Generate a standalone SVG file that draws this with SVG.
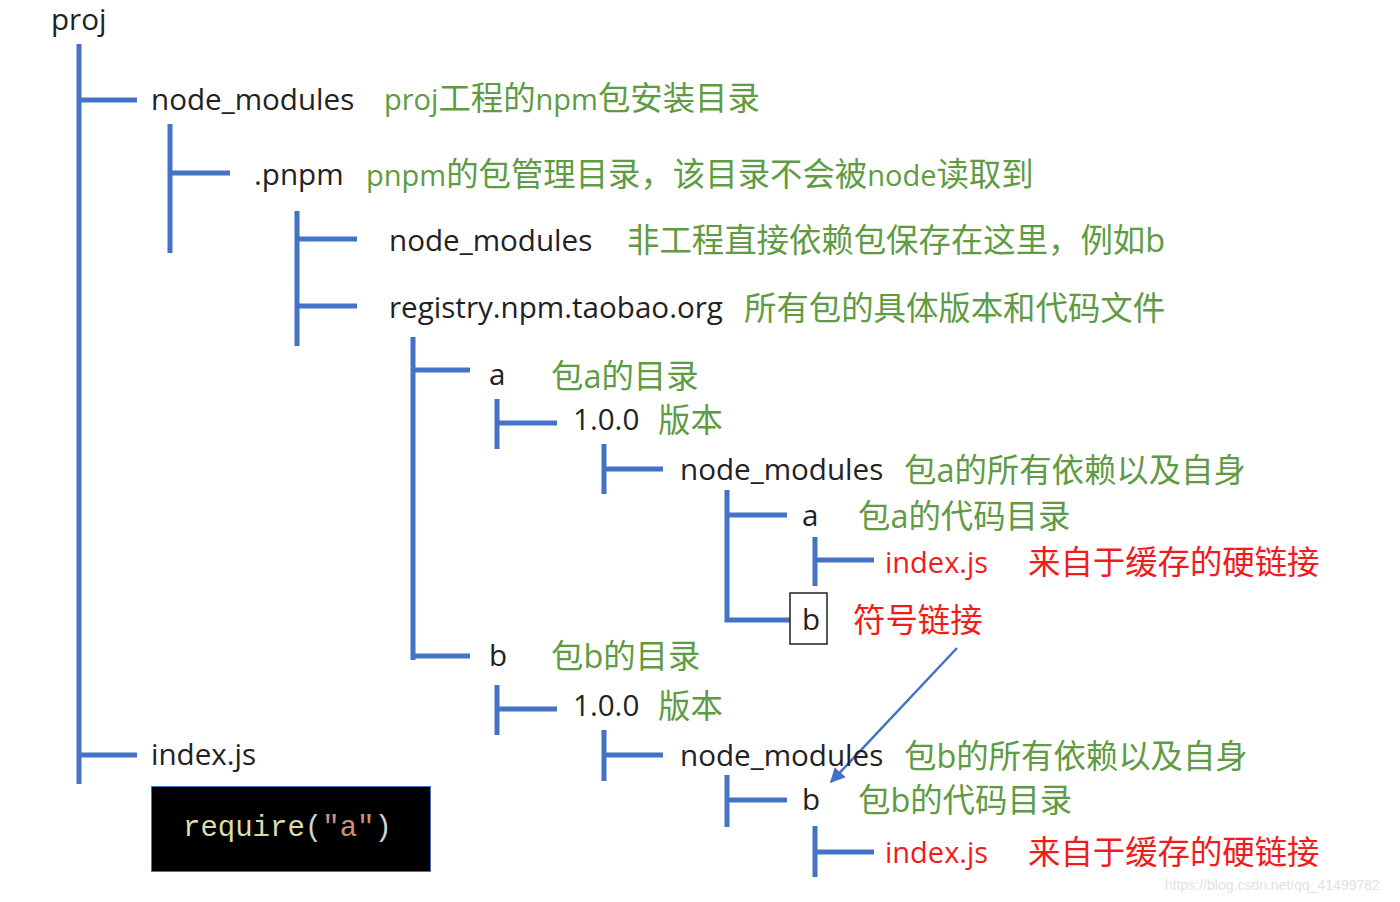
<svg xmlns="http://www.w3.org/2000/svg" width="1400" height="902" viewBox="0 0 1400 902">
<style>
.k{font-family:"Open Sans","Noto Sans CJK SC",sans-serif;font-size:29.6px;fill:#222}
.g{font-family:"Open Sans","Noto Sans CJK SC",sans-serif;font-size:32.4px;fill:#5E9B42}
.r{font-family:"Open Sans","Noto Sans CJK SC",sans-serif;font-size:32.4px;fill:#F21B1B}
.ri{font-family:"Open Sans","Noto Sans CJK SC",sans-serif;font-size:29px;fill:#F21B1B}
.l{font-size:29px}
.t{stroke:#4472C4;stroke-width:5;fill:none}
.code{font-family:"Liberation Mono","DejaVu Sans Mono",monospace;font-size:29px}
</style>
<defs>
<marker id="ah" viewBox="0 0 10 10" refX="9" refY="5" markerWidth="6" markerHeight="6" orient="auto" markerUnits="strokeWidth">
<path d="M0,0 L10,5 L0,10 z" fill="#4472C4"/>
</marker>
</defs>
<rect width="1400" height="902" fill="#fff"/>
<g id="connectors">
<path class="t" d="M79,44 V784 M79,100 H137 M79,755 H137"/>
<path class="t" d="M170,124 V253 M170,173 H230"/>
<path class="t" d="M297,211 V346 M297,239 H357 M297,306 H357"/>
<path class="t" d="M413,337 V660 M413,370 H470 M413,656 H470"/>
<path class="t" d="M497,399 V449 M497,423 H557"/>
<path class="t" d="M604,444 V494 M604,469 H663"/>
<path class="t" d="M727,490 V620 H790 M727,515 H787"/>
<path class="t" d="M815,537 V586 M815,560 H874"/>
<path class="t" d="M497,685 V735 M497,709 H557"/>
<path class="t" d="M604,730 V781 M604,755 H663"/>
<path class="t" d="M727,775 V827 M727,800 H787"/>
<path class="t" d="M815,826 V877 M815,852 H874"/>
<line x1="957" y1="648" x2="831" y2="782" stroke="#4472C4" stroke-width="2.5" marker-end="url(#ah)"/>
</g>
<g id="proj"><text class="k" x="51" y="30">proj</text></g>
<g id="node_modules_root"><text class="k" x="151" y="110">node_modules</text><text class="g" x="384" y="110"><tspan class="l">proj</tspan>工程的<tspan class="l">npm</tspan>包安装目录</text></g>
<g id="pnpm"><text class="k" x="254" y="185">.pnpm</text><text class="g" x="366" y="186"><tspan class="l">pnpm</tspan>的包管理目录，该目录不会被<tspan class="l">node</tspan>读取到</text></g>
<g id="pnpm_node_modules"><text class="k" x="389" y="251">node_modules</text><text class="g" x="627" y="252">非工程直接依赖包保存在这里，例如b</text></g>
<g id="registry"><text class="k" x="389" y="318">registry.npm.taobao.org</text><text class="g" x="744" y="320">所有包的具体版本和代码文件</text></g>
<g id="pkg_a"><text class="k" x="489" y="385">a</text><text class="g" x="551" y="388">包a的目录</text></g>
<g id="a_100"><text class="k" x="573" y="430">1.0.0</text><text class="g" x="658" y="432">版本</text></g>
<g id="a_node_modules"><text class="k" x="680" y="480">node_modules</text><text class="g" x="904" y="482">包a的所有依赖以及自身</text></g>
<g id="a_code"><text class="k" x="802" y="526">a</text><text class="g" x="858" y="528">包a的代码目录</text></g>
<g id="a_index"><text class="ri" x="885" y="573">index.js</text><text class="r" x="1028" y="574">来自于缓存的硬链接</text></g>
<g id="a_b_link"><rect x="790" y="593" width="37" height="51" fill="#fff" stroke="#222" stroke-width="1.5"/><text class="k" x="802" y="630">b</text><text class="r" x="853" y="632">符号链接</text></g>
<g id="pkg_b"><text class="k" x="489" y="666">b</text><text class="g" x="551" y="668">包b的目录</text></g>
<g id="b_100"><text class="k" x="573" y="716">1.0.0</text><text class="g" x="658" y="718">版本</text></g>
<g id="b_node_modules"><text class="k" x="680" y="766">node_modules</text><text class="g" x="904" y="768">包b的所有依赖以及自身</text></g>
<g id="b_code"><text class="k" x="802" y="810">b</text><text class="g" x="858" y="812">包b的代码目录</text></g>
<g id="b_index"><text class="ri" x="885" y="863">index.js</text><text class="r" x="1028" y="864">来自于缓存的硬链接</text></g>
<g id="index_js"><text class="k" x="151" y="765">index.js</text></g>
<g id="require_box"><rect x="151.5" y="786.5" width="279" height="85" fill="#000" stroke="#4472C4" stroke-width="1"/><text class="code" x="183" y="836"><tspan fill="#DCDCAA">require</tspan><tspan fill="#D4D4D4">(</tspan><tspan fill="#CE9178">"a"</tspan><tspan fill="#D4D4D4">)</tspan></text></g>
<text x="1165" y="890" font-family="Liberation Sans,sans-serif" font-size="14" fill="#E2E2E2">https://blog.csdn.net/qq_41499782</text>
</svg>
